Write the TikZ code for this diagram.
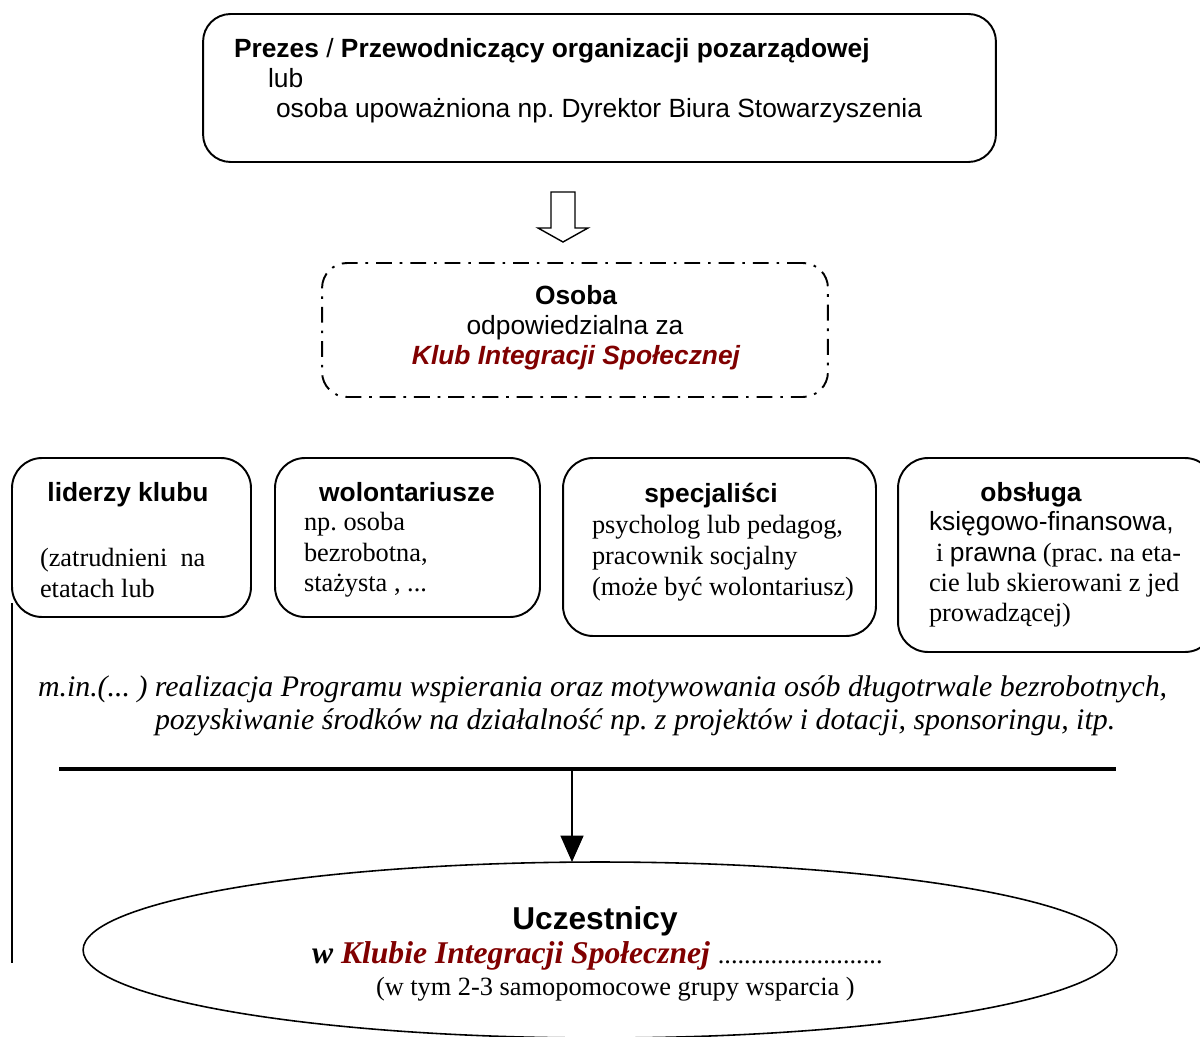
\documentclass[tikz,border=0pt]{standalone}
\usepackage{fontspec}
\setmainfont{Liberation Serif}
\setsansfont{Liberation Sans}
\usetikzlibrary{arrows.meta,shapes.geometric}
\definecolor{kisred}{RGB}{128,0,0}
\frenchspacing
\newcommand\fsn{\fontsize{15}{18}\selectfont\frenchspacing}
\newcommand\fsi{\fontsize{17}{20}\selectfont\frenchspacing}
\newcommand\fsb{\fontsize{18}{21}\selectfont\frenchspacing}
\begin{document}
\begin{tikzpicture}[x=0.02cm,y=-0.02cm,
 box/.style={draw, line width=1.1pt, rounded corners=0.55cm, inner sep=0pt, outer sep=0pt},
 t/.style={inner sep=0pt, outer sep=0pt, anchor=base west, font=\fsn},
 tc/.style={inner sep=0pt, outer sep=0pt, anchor=base, font=\fsn},
 hd/.style={tc, font=\fsn\sffamily\bfseries}]
\clip (0,0) rectangle (1200,1037);

% top box
\node[box, minimum width=15.86cm, minimum height=2.96cm] (top) at (599.5,88) {};
\node[t, font=\fsn\sffamily] (t1) at (234,58) {\textbf{Prezes} / \textbf{Przewodniczący organizacji pozarządowej}};
\node[t, font=\fsn\sffamily] (t2) at (268,88) {lub};
\node[t, font=\fsn\sffamily] (t3) at (276,118) {osoba upoważniona np. Dyrektor Biura Stowarzyszenia};

% hollow arrow
\draw[line width=0.8pt, fill=white] (551,192) -- (575,192) -- (575,228) -- (588,228) -- (563,242) -- (538,228) -- (551,228) -- cycle;

% Osoba box
\node[box, dash pattern=on 9pt off 4.5pt on 1.5pt off 4.5pt, rounded corners=0.5cm, minimum width=10.12cm, minimum height=2.68cm] (os) at (575,330) {};
\node[hd] (os1) at (576,304) {Osoba};
\node[tc, font=\fsn\sffamily] (os2) at (575,334) {odpowiedzialna za};
\node[tc, font=\fsn\sffamily\bfseries\itshape, text=kisred] (os3) at (576,364) {Klub Integracji Społecznej};

% four boxes
\node[box, rounded corners=0.6cm, minimum width=4.78cm, minimum height=3.18cm] (b1) at (131.5,537.5) {};
\node[hd] (b1h) at (128,501) {liderzy klubu};
\node[t] (b1a) at (40,566) {(zatrudnieni\ \ na};
\node[t] (b1b) at (40,597) {etatach lub};

\node[box, rounded corners=0.6cm, minimum width=5.3cm, minimum height=3.18cm] (b2) at (407.5,537.5) {};
\node[hd] (b2h) at (407,501) {wolontariusze};
\node[t] (b2a) at (304,530) {np. osoba};
\node[t] (b2b) at (304,561) {bezrobotna,};
\node[t] (b2c) at (304,591) {stażysta , ...};

\node[box, rounded corners=0.6cm, minimum width=6.26cm, minimum height=3.56cm] (b3) at (719.5,547) {};
\node[hd] (b3h) at (711,502) {specjaliści};
\node[t] (b3a) at (592,533) {psycholog lub pedagog,};
\node[t] (b3b) at (592,564) {pracownik socjalny};
\node[t] (b3c) at (592,595) {(może być wolontariusz)};

\node[box, rounded corners=0.6cm, minimum width=6.34cm, minimum height=3.88cm] (b4) at (1056.5,555) {};
\begin{scope}
\clip (890,440) rectangle (1179,660);
\node[hd] (b4h) at (1031,501) {obsługa};
\node[t, font=\fsn\sffamily] (b4a) at (929,530) {księgowo-finansowa,};
\node[t] (b4b) at (936,561) {i {\sffamily prawna} (prac. na eta-};
\node[t] (b4c) at (929,591) {cie lub skierowani z jed};
\node[t] (b4d) at (929,621) {prowadzącej)};
\end{scope}

% italic description
\node[t, font=\fsi\itshape] (it1) at (38,696) {m.in.(... ) realizacja Programu wspierania oraz motywowania osób długotrwale bezrobotnych,};
\node[t, font=\fsi\itshape] (it2) at (155,729) {pozyskiwanie środków na działalność np. z projektów i dotacji, sponsoringu, itp.};

% ellipse
\node[ellipse, draw, line width=0.9pt, minimum width=20.68cm, minimum height=3.52cm, inner sep=0pt, outer sep=0pt] (ell) at (600,950) {};
\node[tc, font=\fsb\sffamily\bfseries] (u1) at (595,929) {Uczestnicy};
\node[t, font=\fsb\bfseries\itshape] (u2) at (312,963) {w \textcolor{kisred}{Klubie Integracji Społecznej} {\fsn\mdseries\upshape .........................}};
\node[t] (u3) at (376,995) {(w tym 2-3 samopomocowe grupy wsparcia )};

% lines and arrow
\coordinate (hl1) at (59,769);
\coordinate (hl2) at (1116,769);
\draw[line width=2.2pt] (hl1) -- (hl2);
\coordinate (ar) at (572,769);
\draw[line width=1.1pt, -{Triangle[length=15pt,width=13pt]}] (ar) -- (ar |- ell.north);
\coordinate (vl1) at (12,603);
\coordinate (vl2) at (12,963);
\draw[line width=1.1pt] (vl1) -- (vl2);
\end{tikzpicture}
\end{document}
